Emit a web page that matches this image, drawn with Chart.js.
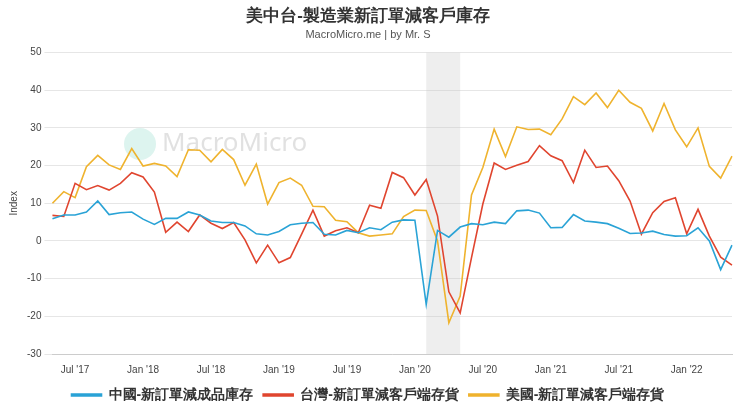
<!DOCTYPE html>
<html><head><meta charset="utf-8">
<script src="https://cdn.jsdelivr.net/npm/chart.js@4"></script>
<style>body{margin:0;background:#fff;font-family:"Noto Sans","Noto Sans CJK TC",sans-serif}#w{position:relative;width:740px;height:416px}</style>
</head><body><div id="w"><canvas id="c" width="740" height="416"></canvas></div>
<script>
const months = [];
for (let y = 2017, m = 4; !(y === 2022 && m === 5); ) { months.push(y + '-' + String(m + 1).padStart(2, '0')); m++; if (m === 12) { m = 0; y++; } }
const china = [5.9,6.9,6.9,7.7,10.6,7,7.5,7.7,5.8,4.4,6,6,7.7,6.9,5.3,4.9,4.9,4,1.9,1.6,2.5,4.3,4.7,4.9,1.8,1.6,2.8,2.2,3.5,3,5,5.6,5.5,-16.8,2.8,1,3.7,4.6,4.3,5,4.6,8,8.2,7.4,3.5,3.6,7,5.3,5,4.6,3.4,2,2.1,2.6,1.7,1.3,1.4,3.5,0,-7.6,-1.1];
const taiwan = [6.8,6.5,15.3,13.6,14.7,13.5,15.3,18.1,17,13,2.3,5,2.5,6.9,4.7,3.3,4.9,0.3,-5.8,-1.1,-5.8,-4.4,1.8,8.2,1.3,2.7,3.5,2.2,9.5,8.7,18.2,16.8,12.2,16.3,6.6,-13.5,-19.1,-4.4,9.8,20.7,19,20.1,21.1,25.3,22.6,21.3,15.5,24.1,19.5,19.9,16,10.6,1.8,7.5,10.5,11.5,1.9,8.4,1.3,-4.3,-6.4];
const usa = [10,13.1,11.5,19.7,22.7,20.2,19,24.5,19.9,20.6,19.9,17.1,24.2,24.1,21,24.3,21.6,14.8,20.4,9.8,15.5,16.7,14.8,9.2,9.1,5.5,5.1,2.2,1.3,1.6,1.9,6.5,8.2,8.1,0,-21.7,-14.6,12.2,19.5,29.7,22.4,30.3,29.6,29.7,28.2,32.4,38.3,36.2,39.3,35.4,40,36.8,35.2,29.2,36.5,29.5,25,30,19.8,16.7,22.5];
const seriesNames = ['中國-新訂單減成品庫存','台灣-新訂單減客戶端存貨','美國-新訂單減客戶端存貨'];
const shadeFrom = '2020-02', shadeTo = '2020-05';

const shade = { id:'shade', beforeDatasetsDraw(ch){ const x=ch.scales.x, a=ch.chartArea, c=ch.ctx;
  const x1=x.getPixelForValue(months.indexOf(shadeFrom)), x2=x.getPixelForValue(months.indexOf(shadeTo));
  c.save(); c.fillStyle='rgba(200,200,200,0.3)'; c.fillRect(x1,a.top,x2-x1,a.bottom-a.top);
  c.font='26px "Noto Sans",sans-serif'; c.fillStyle='rgba(170,170,170,0.35)'; c.textBaseline='middle'; c.fillText('MacroMicro',162,144);
  c.fillStyle='rgba(120,210,190,0.25)'; c.beginPath(); c.arc(140,144,16,0,Math.PI*2); c.fill(); c.restore(); } };

new Chart(document.getElementById('c'), {
  type:'line',
  data:{ labels:months, datasets:[
    {label:seriesNames[0], data:china, borderColor:'#2aa3d6'},
    {label:seriesNames[1], data:taiwan, borderColor:'#e0452f'},
    {label:seriesNames[2], data:usa, borderColor:'#efb32e'}
  ].map(d=>Object.assign(d,{borderWidth:1.6,pointRadius:0,tension:0,backgroundColor:d.borderColor}))},
  options:{ responsive:false, animation:false,
    layout:{padding:{left:4,right:8,top:0,bottom:4}},
    plugins:{
      title:{display:true,text:'美中台-製造業新訂單減客戶庫存',font:{size:17,weight:'bold'},color:'#333',padding:{top:6,bottom:2}},
      subtitle:{display:true,text:'MacroMicro.me | by Mr. S',font:{size:11},color:'#555',padding:{bottom:11}},
      legend:{position:'bottom',labels:{boxWidth:30,boxHeight:2,font:{size:14,weight:'bold'},color:'#333',padding:10}},
      tooltip:{enabled:false}
    },
    scales:{
      x:{offset:false,grid:{display:false,drawTicks:true},border:{color:'#ccc'},
        ticks:{autoSkip:false,maxRotation:0,font:{size:10},color:'#444',padding:2,
          callback:function(v){const s=months[v];const mm=s.slice(5),yy=s.slice(2,4);
            if(mm==='01')return "Jan '"+yy; if(mm==='07')return "Jul '"+yy; return null;}}},
      y:{min:-30,max:50,ticks:{stepSize:10,font:{size:10},color:'#444'},grid:{color:'#e6e6e6'},border:{display:false},
        title:{display:true,text:'Index',font:{size:10},color:'#444'}}
    }
  },
  plugins:[shade]
});
</script></body></html>
